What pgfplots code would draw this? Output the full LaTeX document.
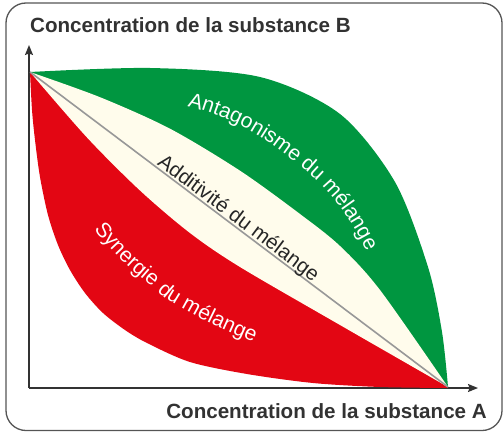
\documentclass[border=0pt]{standalone}
\usepackage{pgfplots}
\pgfplotsset{compat=1.18}
\usepackage{fontspec}
\setmainfont{Liberation Sans}
\usetikzlibrary{decorations.text, arrows.meta}
\definecolor{vert}{RGB}{0,150,64}
\definecolor{rouge}{RGB}{227,6,19}
\definecolor{creme}{RGB}{255,252,236}
\definecolor{gris}{RGB}{152,152,152}
\definecolor{axe}{RGB}{50,50,50}
\definecolor{cadre}{RGB}{85,85,85}
\begin{document}
\begin{tikzpicture}[x=1pt,y=1pt]
\useasboundingbox (0,0) rectangle (503,432);
\draw[rounded corners=20pt, line width=1.3pt, color=cadre] (6,1.5) rectangle (502,429);
\begin{axis}[at={(29,44)}, anchor=south west, scale only axis,
  width=449pt, height=343pt, xmin=29, xmax=478, ymin=44, ymax=387,
  enlargelimits=false, clip=false, axis lines=left, ticks=none,
  axis line style={line width=1.4pt, color=axe, -{Stealth[length=10pt,width=8pt,inset=1.5pt]}}]
% green outer
\addplot[fill=vert, draw=none, smooth] coordinates {(30,360) (150,364) (260,355) (340,318) (395,250) (428,165) (442,100) (448,45)} -- cycle;
% red outer
\addplot[fill=rouge, draw=none, smooth] coordinates {(30,360) (32,322) (35,292) (40,255) (48,217) (58,187) (70,162) (85,139) (103,119) (125,102) (147,89) (190,70) (247,58) (313,49) (380,45) (448,44)} -- cycle;
% cream
\addplot[fill=creme, draw=none, smooth] coordinates {(30,360) (100,334.8) (170,303.3) (240,261.3) (300,218) (340,186) (380,142) (448,45)} -- cycle;
\addplot[fill=creme, draw=none, smooth] coordinates {(30,360) (87,294.5) (140,241.5) (190,199) (240,165) (340,107) (448,45)} -- cycle;
% additivity line
\addplot[color=gris, line width=1.6pt] coordinates {(30,360) (448,45)};
\end{axis}
\node[anchor=base west, font=\fontsize{20.6}{24}\selectfont\bfseries, text=axe, inner sep=0pt] at (30,399) {Concentration de la substance B};
\node[anchor=base east, font=\fontsize{20.6}{24}\selectfont\bfseries, text=axe, inner sep=0pt] at (487,14) {Concentration de la substance A};
\path[decorate, decoration={text along path, text align=center,
  text={|\fontsize{21}{24}\selectfont\color{white}|Antagonisme du mélange}}]
  (187,326) to[out=-15, in=143] (290,274) to[out=-37, in=117] (367,180);
\path[decorate, decoration={text along path,
  text={|\fontsize{21}{24}\selectfont\color{white}|Synergie du mélange}}]
  (94,203) to[out=-52, in=140] (165,134) to[out=-32, in=155] (283,76);
\path[decorate, decoration={text along path,
  text={|\fontsize{20.5}{24}\selectfont\color{black!85}|Additivité du mélange}}]
  (156.5,268) -- (340.2,129.6);
\end{tikzpicture}
\end{document}
